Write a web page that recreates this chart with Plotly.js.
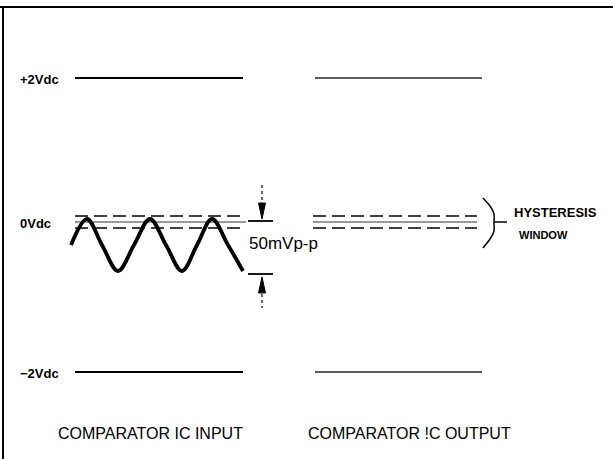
<!DOCTYPE html>
<html><head><meta charset="utf-8">
<script src="https://cdn.plot.ly/plotly-3.0.1.min.js"></script>
<style>html,body{margin:0;padding:0;background:#fff}#c{width:613px;height:459px}</style>
</head><body><div id="c"></div>
<script>
// Diagram coordinates (x: horizontal position, y: vertical position, down = larger)
const levelLabels = ['+2Vdc', '0Vdc', '\u22122Vdc'];
const levelY = [78, 222, 372];
const inputSpan = [75, 243];
const outputSpan = [315, 482];
const windowY = [216, 228];          // hysteresis window edges
const inputWindowSpan = [75, 246];
const outputWindowSpan = [313, 477];
// Input sine wave: read crossings, peaks and troughs
const waveX = [71, 87, 102, 118, 134, 150, 166, 182, 197, 212, 228, 243];
const waveY = [245, 219, 245, 271, 245, 219, 245, 271, 245, 219, 245, 271];
// 50mVp-p marker
const ppX = 262;
const ppY = [221, 274];
const ppLabel = '50mVp-p';
// Brace for hysteresis window
const braceX = [483, 490, 494, 494, 494, 490, 483];
const braceY = [198, 206, 214, 222, 231, 239, 248];
const braceTickX = [494, 507];
const sideLabels = ['HYSTERESIS', 'WINDOW'];
const captions = ['COMPARATOR IC INPUT', 'COMPARATOR !C OUTPUT'];

const traces = [];
const black = '#000';
// level lines
levelY.forEach((y, i) => {
  if (i === 1) return;
  traces.push({x: inputSpan, y: [y, y], mode: 'lines', line: {color: black, width: 2}, hoverinfo: 'skip'});
  traces.push({x: outputSpan, y: [y, y], mode: 'lines', line: {color: '#222', width: 1.6}, hoverinfo: 'skip'});
});
// hysteresis window dashed lines
[inputWindowSpan, outputWindowSpan].forEach(span => {
  windowY.forEach(y => traces.push({x: span, y: [y, y], mode: 'lines', line: {color: black, width: 1.4, dash: '13px,6px'}, hoverinfo: 'skip'}));
  traces.push({x: span, y: [levelY[1], levelY[1]], mode: 'lines', line: {color: '#333', width: 1}, hoverinfo: 'skip'});
});
// wave
traces.push({x: waveX, y: waveY, mode: 'lines', line: {color: black, width: 3.8, shape: 'spline', smoothing: 1.0}, hoverinfo: 'skip'});
// p-p ticks
ppY.forEach(y => traces.push({x: [ppX - 14, ppX + 11], y: [y, y], mode: 'lines', line: {color: black, width: 1.8}, hoverinfo: 'skip'}));
// arrow shafts
traces.push({x: [ppX, ppX], y: [ppY[0] - 36, ppY[0] - 14], mode: 'lines', line: {color: black, width: 1.2, dash: 'dot'}, hoverinfo: 'skip'});
traces.push({x: [ppX, ppX], y: [ppY[1] + 14, ppY[1] + 34], mode: 'lines', line: {color: black, width: 1.2, dash: 'dot'}, hoverinfo: 'skip'});
// arrow heads (filled narrow triangles)
traces.push({x: [ppX - 3.5, ppX + 3.5, ppX, ppX - 3.5], y: [ppY[0] - 18, ppY[0] - 18, ppY[0] - 2, ppY[0] - 18], mode: 'lines', fill: 'toself', fillcolor: black, line: {color: black, width: 1}, hoverinfo: 'skip'});
traces.push({x: [ppX - 3.5, ppX + 3.5, ppX, ppX - 3.5], y: [ppY[1] + 19, ppY[1] + 19, ppY[1] + 3, ppY[1] + 19], mode: 'lines', fill: 'toself', fillcolor: black, line: {color: black, width: 1}, hoverinfo: 'skip'});
// brace
traces.push({x: braceX, y: braceY, mode: 'lines', line: {color: black, width: 1.5, shape: 'spline', smoothing: 0.6}, hoverinfo: 'skip'});
traces.push({x: braceTickX, y: [levelY[1], levelY[1]], mode: 'lines', line: {color: black, width: 1.5}, hoverinfo: 'skip'});

const font = {family: 'Liberation Sans, Arial, sans-serif', color: black};
const f = (size, w) => Object.assign({size: size, weight: w || 'normal'}, font);
const annotations = [];
levelLabels.forEach((t, i) => annotations.push({x: 18, y: levelY[i] + 1, text: t, showarrow: false, xanchor: 'left', yanchor: 'middle', font: f(13, 'bold')}));
annotations.push({x: 247, y: 243, text: ppLabel, showarrow: false, xanchor: 'left', yanchor: 'middle', font: f(17)});
annotations.push({x: 512, y: 212, text: sideLabels[0], showarrow: false, xanchor: 'left', yanchor: 'middle', font: f(13, 'bold')});
annotations.push({x: 517, y: 235, text: sideLabels[1], showarrow: false, xanchor: 'left', yanchor: 'middle', font: f(11, 'bold')});
annotations.push({x: 56, y: 433, text: captions[0], showarrow: false, xanchor: 'left', yanchor: 'middle', font: f(16)});
annotations.push({x: 306, y: 433, text: captions[1], showarrow: false, xanchor: 'left', yanchor: 'middle', font: f(16)});

const layout = {
  width: 613, height: 459,
  margin: {l: 0, r: 0, t: 0, b: 0},
  paper_bgcolor: '#fff', plot_bgcolor: '#fff',
  showlegend: false,
  xaxis: {range: [0, 613], visible: false, fixedrange: true},
  yaxis: {range: [459, 0], visible: false, fixedrange: true},
  annotations: annotations,
  shapes: [
    {type: 'line', xref: 'x', yref: 'y', x0: 0, x1: 613, y0: 7, y1: 7, line: {color: black, width: 2}},
    {type: 'line', xref: 'x', yref: 'y', x0: 3, x1: 3, y0: 6, y1: 459, line: {color: black, width: 2}}
  ]
};
Plotly.newPlot('c', traces, layout, {staticPlot: true, displayModeBar: false});
</script>
</body></html>
